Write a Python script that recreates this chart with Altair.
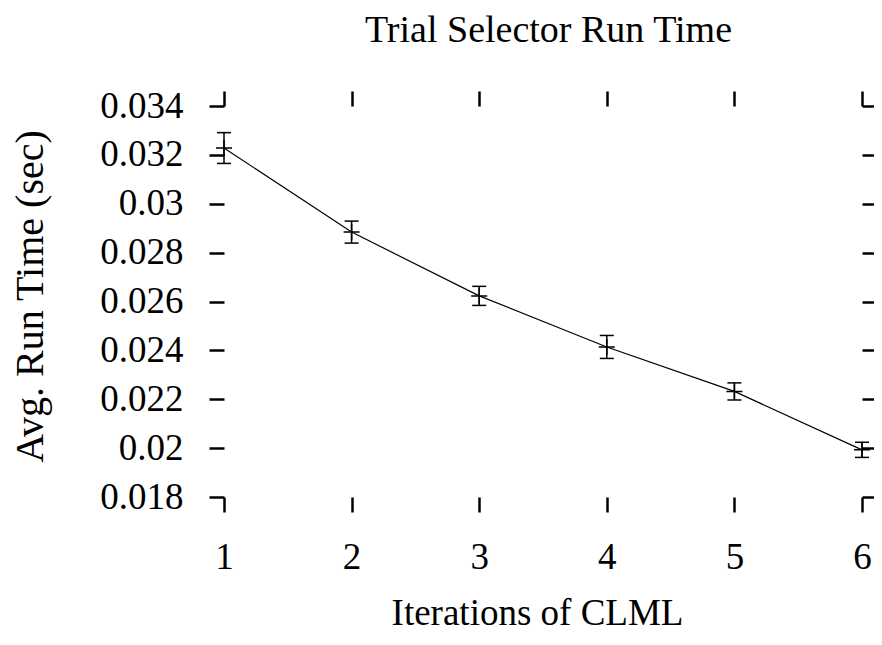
import altair as alt
import pandas as pd

iterations = [1, 2, 3, 4, 5, 6]
mean_time = [0.03228, 0.02884, 0.02623, 0.02414, 0.02232, 0.01993]
err_time = [0.00063, 0.00045, 0.00039, 0.00047, 0.00035, 0.00031]

x_ticks = [1, 2, 3, 4, 5, 6]
y_ticks = [0.018, 0.020, 0.022, 0.024, 0.026, 0.028, 0.030, 0.032, 0.034]

df = pd.DataFrame({
    "it": iterations,
    "mean": mean_time,
    "lo": [m - e for m, e in zip(mean_time, err_time)],
    "hi": [m + e for m, e in zip(mean_time, err_time)],
})

FONT = "Liberation Serif"
xs = alt.Scale(domain=[1, 6], nice=False, zero=False)
ys = alt.Scale(domain=[0.018, 0.034], nice=False, zero=False)

axis_common = dict(domain=False, grid=False, ticks=True, tickSize=15, tickWidth=2.5,
                   tickColor="black", labelColor="black", labelFont=FONT,
                   labelFontSize=37, titleFont=FONT, titleColor="black",
                   titleFontWeight="normal")

x_axis = alt.Axis(values=x_ticks, format="d", labelPadding=27, title="Iterations of CLML",
                  titleFontSize=37, titleX=313, titleY=116, titleBaseline="middle",
                  labelFlush=False, **axis_common)
y_axis = alt.Axis(values=y_ticks, format=".3~f", labelPadding=26, title="Avg. Run Time (sec)",
                  titleFontSize=40, titleX=-194, titleY=190, titleBaseline="middle",
                  titleAngle=-90, labelFlush=False, **axis_common)

base = alt.Chart(df)

line = base.mark_line(color="black", strokeWidth=1.2).encode(
    x=alt.X("it:Q", scale=xs, axis=x_axis),
    y=alt.Y("mean:Q", scale=ys, axis=y_axis),
)
bars = base.mark_rule(color="black", strokeWidth=1.5).encode(
    x="it:Q", y="lo:Q", y2="hi:Q")
cap_lo = base.mark_point(shape="M-1,0H1", size=196, color="black", strokeWidth=1.5,
                         filled=False, opacity=1).encode(x="it:Q", y="lo:Q")
cap_hi = base.mark_point(shape="M-1,0H1", size=196, color="black", strokeWidth=1.5,
                         filled=False, opacity=1).encode(x="it:Q", y="hi:Q")
plus = base.mark_point(shape="M-1,0H1M0,-1V1", size=256, color="black", strokeWidth=1.5,
                       filled=False, opacity=1).encode(x="it:Q", y="mean:Q")

main = alt.layer(line, bars, cap_lo, cap_hi, plus)

mirror = base.mark_point(opacity=0).encode(
    x=alt.X("it:Q", scale=xs, axis=alt.Axis(orient="top", values=x_ticks, labels=False,
                                             title="Trial Selector Run Time",
                                             titleFont=FONT, titleFontSize=38,
                                             titleFontWeight="normal", titleColor="black",
                                             titleX=324, titleY=-76, titleBaseline="middle",
                                             domain=False, grid=False,
                                             tickSize=15, tickWidth=2.5, tickColor="black")),
    y=alt.Y("mean:Q", scale=ys, axis=alt.Axis(orient="right", values=y_ticks, labels=False,
                                               title=None, domain=False, grid=False,
                                               tickSize=15, tickWidth=2.5, tickColor="black")),
)

chart = alt.layer(main, mirror).resolve_scale(x="independent", y="independent").properties(
    width=638, height=391,
    background="white",
    autosize=alt.AutoSizeParams(type="none"),
    padding={"left": 216, "top": 98, "right": 12, "bottom": 136},
).configure_view(stroke="transparent", strokeWidth=0)

chart.save("out.html", embed_options={"renderer": "svg", "actions": False})
